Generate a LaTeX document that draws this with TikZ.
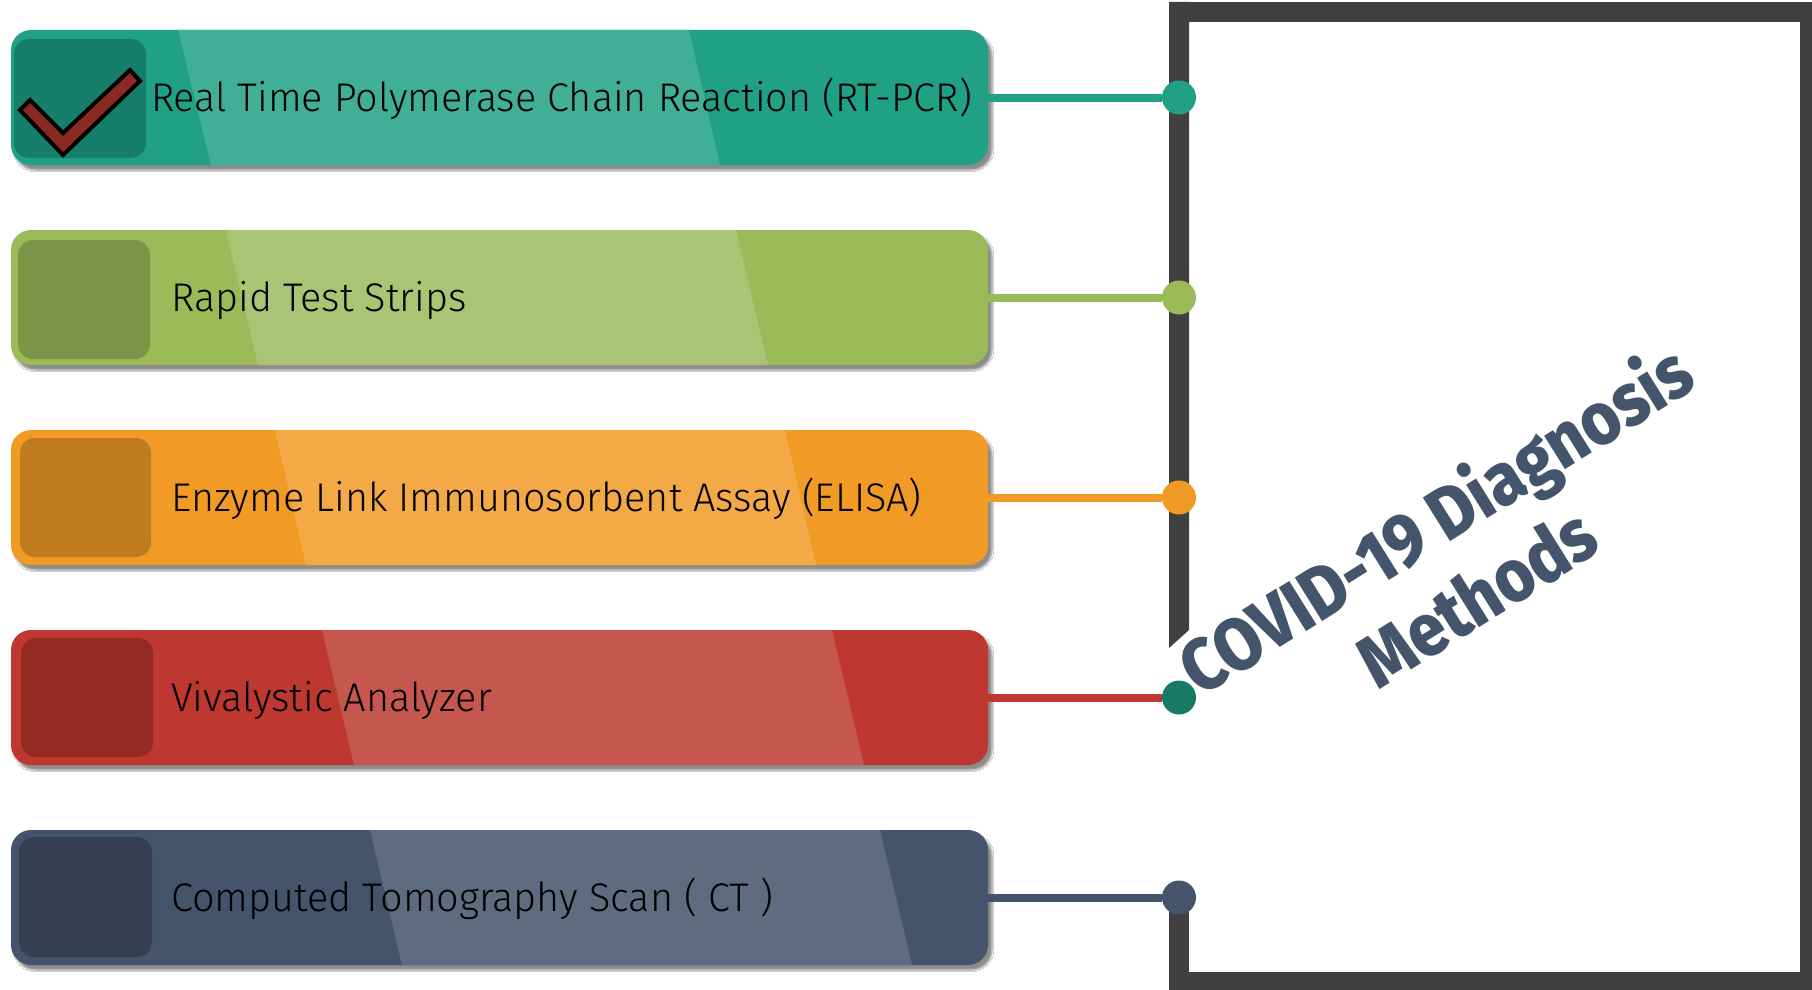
\documentclass[tikz,border=0pt]{standalone}
\usepackage{fontspec}
\usetikzlibrary{shadows.blur}
\newfontfamily\lblfont[FakeStretch=0.99]{Fira Sans Light}
\newfontfamily\ttlfont[FakeStretch=0.9]{Fira Sans ExtraBold}
\definecolor{tealc}{HTML}{20A185}
\definecolor{tealband}{HTML}{41AF97}
\definecolor{tealin}{HTML}{177F69}
\definecolor{tealdot}{HTML}{177A63}
\definecolor{greenc}{HTML}{9BBB59}
\definecolor{greenband}{HTML}{A9C475}
\definecolor{greenin}{HTML}{7B9446}
\definecolor{orangec}{HTML}{F29A26}
\definecolor{orangeband}{HTML}{F2A946}
\definecolor{orangein}{HTML}{C07B1F}
\definecolor{redc}{HTML}{BE3730}
\definecolor{redband}{HTML}{C5574F}
\definecolor{redin}{HTML}{952A24}
\definecolor{slatec}{HTML}{44546A}
\definecolor{slateband}{HTML}{5F6C7F}
\definecolor{slatein}{HTML}{353F51}
\definecolor{framegray}{HTML}{404040}
\definecolor{checkred}{HTML}{8B2A23}
\tikzset{
  boxbase/.style={rectangle, rounded corners=20pt, minimum width=977pt, minimum height=135pt, inner sep=0pt,
    blur shadow={shadow xshift=4pt, shadow yshift=-5pt, shadow blur steps=6, shadow opacity=45}},
  innersq/.style={rounded corners=15pt},
  lbl/.style={font=\lblfont\fontsize{40}{48}\selectfont, text=black, inner sep=0pt, anchor=base west},
  conn/.style={line width=8pt},
  endcirc/.style={circle, minimum size=34pt, inner sep=0pt},
  ttl/.style={font=\ttlfont\fontsize{74}{88}\selectfont, text=slatec, rotate=32, anchor=base, inner sep=0pt},
  framebar/.style={fill=framegray}
}
\begin{document}
\begin{tikzpicture}[x=1pt,y=-1pt]
\useasboundingbox (0,0) rectangle (1812,990);
\fill[white] (0,0) rectangle (1812,990);
% frame
\fill[framebar] (1169,2) rectangle (1812,22);
\fill[framebar] (1800,2) rectangle (1812,990);
\fill[framebar] (1169,972) rectangle (1812,990);
\fill[framebar] (1169,2) -- (1189,2) -- (1189,630) -- (1169,648) -- cycle;
\fill[framebar] (1169,885) rectangle (1189,990);
% box 1
\node[boxbase, fill=tealc] (b1) at (499.5,97.5) {};
\fill[tealband] (178,30) -- (689,30) -- (720,165) -- (211,165) -- cycle;
\fill[tealin, innersq] (14,39) rectangle (146,158);
\draw[fill=checkred, line width=4pt, line join=miter] (20,110) -- (30,100) -- (63,133) -- (130,70) -- (140,81) -- (63,155) -- cycle;
\node[lbl] (t1) at (151,111.5) {Real Time Polymerase Chain Reaction (RT-PCR)};
% box 2
\node[boxbase, fill=greenc] (b2) at (499.5,297.5) {};
\fill[greenband] (226,230) -- (736,230) -- (768,365) -- (258,365) -- cycle;
\fill[greenin, innersq] (18,240) rectangle (150,359);
\node[lbl] (t2) at (171,311.5) {Rapid Test Strips};
% box 3
\node[boxbase, fill=orangec] (b3) at (499.5,497.5) {};
\fill[orangeband] (275,430) -- (785,430) -- (816,565) -- (306,565) -- cycle;
\fill[orangein, innersq] (20,438) rectangle (151,557);
\node[lbl] (t3) at (171,511.5) {Enzyme Link Immunosorbent Assay (ELISA)};
% box 4
\node[boxbase, fill=redc] (b4) at (499.5,697.5) {};
\fill[redband] (322,630) -- (832,630) -- (864,765) -- (354,765) -- cycle;
\fill[redin, innersq] (21,638) rectangle (153,757);
\node[lbl] (t4) at (171,711.5) {Vivalystic Analyzer};
% box 5
\node[boxbase, fill=slatec] (b5) at (499.5,897.5) {};
\fill[slateband] (370,830) -- (880,830) -- (912,965) -- (402,965) -- cycle;
\fill[slatein, innersq] (19,837) rectangle (152,957);
\node[lbl] (t5) at (171,911.5) {Computed Tomography Scan ( CT )};
% end circles
\node[endcirc, fill=tealc] (c1) at (1179,97.5) {};
\node[endcirc, fill=greenc] (c2) at (1179,297.5) {};
\node[endcirc, fill=orangec] (c3) at (1179,497.5) {};
\node[endcirc, fill=tealdot] (c4) at (1179,697.5) {};
\node[endcirc, fill=slatec] (c5) at (1179,897.5) {};
% connectors
\draw[conn, tealc] (b1.east) -- (c1);
\draw[conn, greenc] (b2.east) -- (c2);
\draw[conn, orangec] (b3.east) -- (c3);
\draw[conn, redc] (b4.east) -- (c4);
\draw[conn, slatec] (b5.east) -- (c5);
% title
\node[ttl] (h1) at (1450,542) {COVID-19 Diagnosis};
\node[ttl] (h2) at (1491,620) {Methods};
\end{tikzpicture}
\end{document}
